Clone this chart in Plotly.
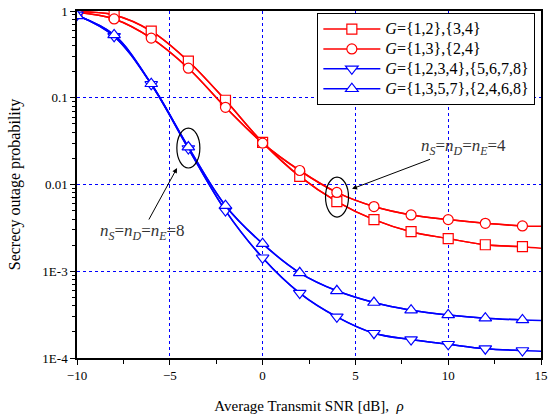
import math
import plotly.graph_objects as go

# ---- data ----
snr = [-10, -8, -6, -4, -2, 0, 2, 4, 6, 8, 10, 12, 14, 15]
g12_34 = [0.98, 0.90, 0.587, 0.264, 0.0936, 0.0306, 0.0124, 0.00636, 0.00394, 0.00286, 0.00238, 0.00202, 0.00192, 0.00184]
g13_24 = [0.97, 0.81, 0.487, 0.219, 0.0776, 0.0300, 0.0145, 0.0081, 0.00557, 0.00446, 0.00394, 0.00357, 0.00333, 0.00330]
g1234_5678 = [0.90, 0.51, 0.143, 0.026, 0.0050, 0.00143, 0.00056, 0.000298, 0.000193, 0.000163, 0.000144, 0.000128, 0.000122, 0.000120]
g1357_2468 = [0.88, 0.53, 0.145, 0.027, 0.0057, 0.00208, 0.00096, 0.000595, 0.000436, 0.000356, 0.000314, 0.000288, 0.000275, 0.000270]

names = ["<i>G</i>={1,2},{3,4}", "<i>G</i>={1,3},{2,4}",
         "<i>G</i>={1,2,3,4},{5,6,7,8}", "<i>G</i>={1,3,5,7},{2,4,6,8}"]
series = [g12_34, g13_24, g1234_5678, g1357_2468]
colors = ["#ff0000", "#ff0000", "#0000ff", "#0000ff"]
symbols = ["square", "circle", "triangle-down", "triangle-up"]
sizes = [10, 10, 11, 11]

y_tickvals = [1e-4, 1e-3, 1e-2, 1e-1, 1]
y_ticktext = ["1E-4", "1E-3", "0.01", "0.1", "1"]

FONT = "Liberation Serif"

fig = go.Figure()
for i in range(4):
    # full curve (to 15 dB) without legend
    fig.add_trace(go.Scatter(
        x=snr, y=series[i], mode="lines", line=dict(color=colors[i], width=1.5, shape="spline"),
        showlegend=False, legendgroup=str(i), hoverinfo="skip"))
    # marker points
    fig.add_trace(go.Scatter(
        x=snr[:-1], y=series[i][:-1], mode="lines+markers",
        name='<span style="font-size:16px">' + names[i] + "</span>", legendgroup=str(i),
        line=dict(color=colors[i], width=1.5, shape="spline"),
        marker=dict(symbol=symbols[i], size=sizes[i], color="white",
                    line=dict(color=colors[i], width=1.2))))

minor_y = [m * 10 ** e for e in range(-4, 0) for m in range(2, 10)]

fig.update_layout(
    width=553, height=420,
    margin=dict(l=77, r=12, t=11, b=62, autoexpand=False),
    paper_bgcolor="white", plot_bgcolor="white",
    font=dict(family=FONT, size=13, color="black"),
    showlegend=True,
    legend=dict(x=0.518, y=0.994, xanchor="left", yanchor="top",
                bordercolor="black", borderwidth=1, bgcolor="white",
                font=dict(family=FONT, size=13), tracegroupgap=0, itemwidth=57),
    xaxis=dict(range=[-10, 15], dtick=5, tick0=0, ticks="outside", ticklen=5, tickwidth=1,
               tickcolor="black", showline=True, linecolor="black", linewidth=1.5, mirror=True,
               showgrid=True, gridcolor="#0000ff", griddash="dot", gridwidth=1, zeroline=False,
               automargin=False, ticklabeloverflow="allow",
               minor=dict(dtick=2.5, ticks="outside", ticklen=4, tickcolor="black", showgrid=False),
               title=dict(text="Average Transmit SNR [dB],  <i>ρ</i>", font=dict(family=FONT, size=15),
                          standoff=18),
               tickfont=dict(family=FONT, size=13)),
    yaxis=dict(type="log", range=[-4, 0], tickvals=y_tickvals, ticktext=y_ticktext,
               ticks="outside", ticklen=5, tickwidth=1, tickcolor="black",
               showline=True, linecolor="black", linewidth=1.5, mirror=True,
               showgrid=True, gridcolor="#0000ff", griddash="dot", gridwidth=1, zeroline=False,
               automargin=False, ticklabeloverflow="allow",
               minor=dict(tickvals=minor_y, ticks="outside", ticklen=3, tickcolor="black", showgrid=False),
               title=dict(text="Secrecy outage probability", font=dict(family=FONT, size=16), standoff=18),
               tickfont=dict(family=FONT, size=13)),
)

# ellipses
fig.add_shape(type="circle", xref="x", yref="y", x0=-4.62, x1=-3.38, y0=10 ** -1.81, y1=10 ** -1.349,
              line=dict(color="black", width=1.2))
fig.add_shape(type="circle", xref="x", yref="y", x0=3.39, x1=4.63, y0=10 ** -2.375, y1=10 ** -1.914,
              line=dict(color="black", width=1.2))

lab = "<i>n</i><sub><i>S</i></sub>=<i>n</i><sub><i>D</i></sub>=<i>n</i><sub><i>E</i></sub>={}"
fig.add_annotation(x=-4.61, y=-1.81, xref="x", yref="y", text=lab.format(8), showarrow=True,
                   ax=-35, ay=64, arrowhead=2, arrowsize=1, arrowwidth=1, arrowcolor="black",
                   font=dict(family=FONT, size=17, color="#333333"))
fig.add_annotation(x=4.82, y=-2.05, xref="x", yref="y", text=lab.format(4), showarrow=True,
                   ax=111, ay=-42, arrowhead=2, arrowsize=1, arrowwidth=1, arrowcolor="black",
                   font=dict(family=FONT, size=17, color="#333333"))

# remove the page's default 8px body margin so the figure fills the window exactly
fig.write_html("out.html", config={"displayModeBar": False},
               post_script="document.body.style.margin='0';document.body.style.overflow='hidden';")
